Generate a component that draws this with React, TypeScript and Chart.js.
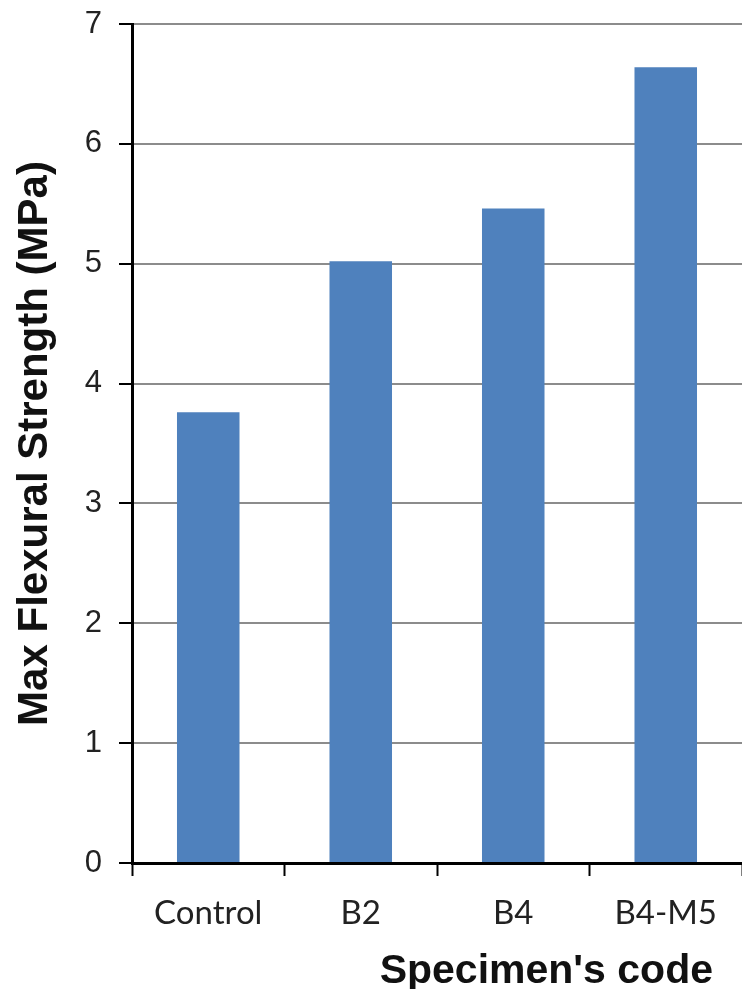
import React, { useEffect, useRef } from 'react';
import { Chart, registerables } from 'chart.js';

Chart.register(...registerables);

const categories: string[] = ['Control', 'B2', 'B4', 'B4-M5'];
const strengthValues: number[] = [3.76, 5.02, 5.46, 6.64];
const yTickValues: number[] = [0, 1, 2, 3, 4, 5, 6, 7];
const yTitle = 'Max Flexural Strength (MPa)';
const xTitle = "Specimen's code";

export default function App() {
  const ref = useRef<HTMLCanvasElement>(null);

  useEffect(() => {
    document.body.style.margin = '0';
    const canvas = ref.current;
    if (!canvas) return;

    const xTitlePlugin = {
      id: 'xTitlePlugin',
      afterDraw(chart: any) {
        const { ctx, chartArea } = chart;
        ctx.save();
        ctx.font = 'bold 41px "Liberation Sans", Arial, sans-serif';
        ctx.fillStyle = '#111111';
        ctx.textAlign = 'right';
        ctx.textBaseline = 'alphabetic';
        ctx.fillText(xTitle, chartArea.right - 29, chart.height - 6);
        ctx.restore();
      },
    };

    const chart = new Chart(canvas, {
      type: 'bar',
      data: {
        labels: categories,
        datasets: [
          {
            data: strengthValues,
            backgroundColor: '#4F81BD',
            borderWidth: 0,
            barPercentage: 0.41,
            categoryPercentage: 1.0,
          },
        ],
      },
      plugins: [xTitlePlugin],
      options: {
        responsive: false,
        animation: false,
        devicePixelRatio: 1,
        layout: { padding: { top: 24, left: 0, right: 0, bottom: 0 } },
        plugins: {
          legend: { display: false },
          tooltip: { enabled: false },
        },
        scales: {
          x: {
            afterFit: (scale: any) => {
              scale.height = 126;
              scale.paddingLeft = 0;
              scale.paddingRight = 0;
            },
            offset: true,
            grid: {
              offset: true,
              drawOnChartArea: false,
              drawTicks: true,
              tickLength: 13,
              tickColor: '#000000',
              tickWidth: 2,
            },
            border: { display: true, color: '#000000', width: 3 },
            ticks: {
              color: '#222222',
              font: { family: 'Lato, "Open Sans", sans-serif', size: 33 },
              padding: 18,
              maxRotation: 0,
              autoSkip: false,
            },
          },
          y: {
            min: 0,
            max: 7,
            afterFit: (scale: any) => {
              scale.width = 132;
              scale.paddingTop = 0;
              scale.paddingBottom = 0;
            },
            afterBuildTicks: (scale: any) => {
              scale.ticks = yTickValues.map((v) => ({ value: v }));
            },
            grid: {
              color: '#8c8c8c',
              lineWidth: 2,
              drawTicks: true,
              tickLength: 13,
              tickColor: '#000000',
              tickWidth: 2,
            },
            border: { display: true, color: '#000000', width: 3 },
            ticks: {
              color: '#222222',
              font: { family: '"Liberation Sans", Arial, sans-serif', size: 31 },
              padding: 17,
            },
            title: {
              display: true,
              text: yTitle,
              color: '#111111',
              font: { family: '"Liberation Sans", Arial, sans-serif', size: 42, weight: 'bold' },
              padding: { top: 10, bottom: 0 },
            },
          },
        },
      },
    });

    return () => chart.destroy();
  }, []);

  return (
    <div style={{ width: 742, height: 989 }}>
      <canvas ref={ref} width={742} height={989} style={{ display: 'block' }} />
    </div>
  );
}
